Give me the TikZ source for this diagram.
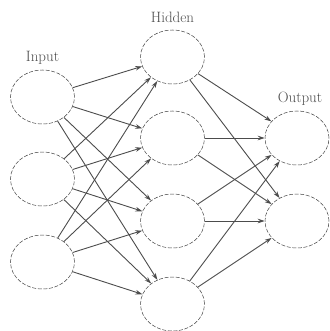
\documentclass[tikz,border=0pt]{standalone}
\usetikzlibrary{shapes.geometric,arrows.meta}
\begin{document}
\begin{tikzpicture}[x=1pt,y=-1pt,
  neuron/.style={ellipse,draw=black!75,dash pattern=on 4pt off 1.6pt,line width=0.5pt,minimum width=64pt,minimum height=54pt,inner sep=0pt},
  conn/.style={draw=black!70,line width=0.9pt,-{Stealth[length=7pt,width=4.5pt]}},
  lbl/.style={font=\fontsize{15}{18}\selectfont,text=black!70}]
\useasboundingbox (0,0) rectangle (329,331);
\node[neuron] (i1) at (42.5,97) {};
\node[neuron] (i2) at (42.5,179) {};
\node[neuron] (i3) at (42.5,262) {};
\node[neuron] (h1) at (172.5,57) {};
\node[neuron] (h2) at (172.5,138) {};
\node[neuron] (h3) at (172.5,221) {};
\node[neuron] (h4) at (172.5,304) {};
\node[neuron] (o1) at (297,138) {};
\node[neuron] (o2) at (297,221) {};
\node[lbl] (li) at (42.5,58) {Input};
\node[lbl] (lh) at (172.5,17) {Hidden};
\node[lbl] (lo) at (300,99) {Output};
\foreach \i in {i1,i2,i3}{
  \foreach \h in {h1,h2,h3,h4}{
    \draw[conn] (\i) -- (\h);
  }
}
\foreach \h in {h1,h2,h3,h4}{
  \foreach \o in {o1,o2}{
    \draw[conn] (\h) -- (\o);
  }
}
\end{tikzpicture}
\end{document}
